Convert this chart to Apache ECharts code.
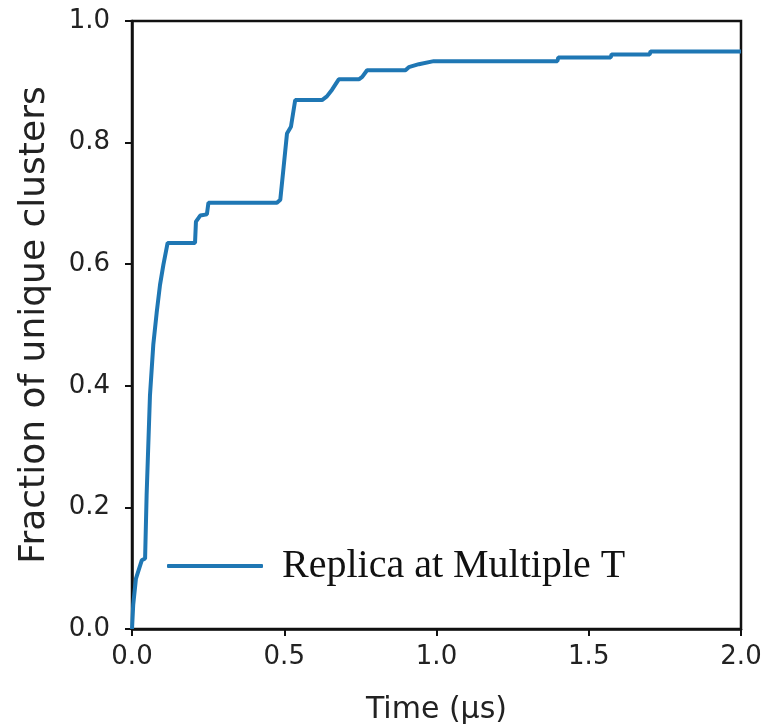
<!DOCTYPE html>
<html>
<head>
<meta charset="utf-8">
<script src="https://cdn.jsdelivr.net/npm/echarts@6/dist/echarts.min.js"></script>
<style>html,body{margin:0;padding:0;background:#fff;}#c{width:766px;height:728px;}</style>
</head>
<body>
<div id="c"></div>
<script>
const times = [0, 0.004, 0.013, 0.032, 0.043, 0.048, 0.059, 0.070, 0.081, 0.092, 0.103, 0.117, 0.207, 0.210, 0.224, 0.246, 0.251, 0.476, 0.487, 0.498, 0.509, 0.522, 0.536, 0.624, 0.640, 0.657, 0.679, 0.745, 0.756, 0.772, 0.898, 0.909, 0.942, 0.991, 1.397, 1.400, 1.572, 1.575, 1.700, 1.703, 2.0];
const fractions = [0, 0.04, 0.083, 0.113, 0.116, 0.22, 0.384, 0.468, 0.52, 0.566, 0.599, 0.635, 0.635, 0.67, 0.68, 0.682, 0.701, 0.701, 0.706, 0.76, 0.815, 0.826, 0.87, 0.87, 0.876, 0.887, 0.904, 0.904, 0.908, 0.919, 0.919, 0.924, 0.929, 0.934, 0.934, 0.940, 0.940, 0.945, 0.945, 0.950, 0.950];
const seriesName = 'Replica at Multiple T';
const xTitle = 'Time (\u00b5s)';
const yTitle = 'Fraction of unique clusters';

const chart = echarts.init(document.getElementById('c'), null, {renderer: 'canvas'});
const tickFont = {fontFamily: 'DejaVu Sans', fontSize: 26, color: '#222'};
chart.setOption({
  animation: false,
  backgroundColor: '#fff',
  grid: {left: 132, right: 25, top: 21, bottom: 99, show: true, borderColor: '#111', borderWidth: 2.5, backgroundColor: 'transparent', containLabel: false, outerBoundsMode: 'none'},
  legend: {
    left: 162, top: 541,
    itemWidth: 96, itemHeight: 4,
    icon: 'rect',
    data: [{name: seriesName, icon: 'roundRect'}],
    textStyle: {fontFamily: 'Liberation Serif', fontSize: 40, color: '#111', padding: [0, 0, 0, 14]}
  },
  xAxis: {
    type: 'value', min: 0, max: 2, interval: 0.5,
    name: xTitle, nameLocation: 'middle', nameGap: 66,
    nameTextStyle: {fontFamily: 'DejaVu Sans', fontSize: 30, color: '#222'},
    axisLine: {show: true, onZero: false, lineStyle: {color: '#111', width: 2.5}},
    axisTick: {show: true, inside: false, length: 7, lineStyle: {color: '#111', width: 2}},
    axisLabel: Object.assign({margin: 15, formatter: v => v.toFixed(1)}, tickFont),
    splitLine: {show: false}
  },
  yAxis: {
    type: 'value', min: 0, max: 1, interval: 0.2,
    name: yTitle, nameLocation: 'middle', nameGap: 79, nameRotate: 90,
    nameTextStyle: {fontFamily: 'DejaVu Sans', fontSize: 36, color: '#222'},
    axisLine: {show: true, onZero: false, lineStyle: {color: '#111', width: 2.5}},
    axisTick: {show: true, inside: false, length: 7, lineStyle: {color: '#111', width: 2}},
    axisLabel: Object.assign({margin: 22, formatter: v => v.toFixed(1)}, tickFont),
    splitLine: {show: false}
  },
  series: [{
    name: seriesName,
    type: 'line',
    data: times.map((t, i) => [t, fractions[i]]),
    showSymbol: false,
    symbol: 'none',
    lineStyle: {color: '#1f77b4', width: 4},
    itemStyle: {color: '#1f77b4'}
  }]
});
</script>
</body>
</html>
